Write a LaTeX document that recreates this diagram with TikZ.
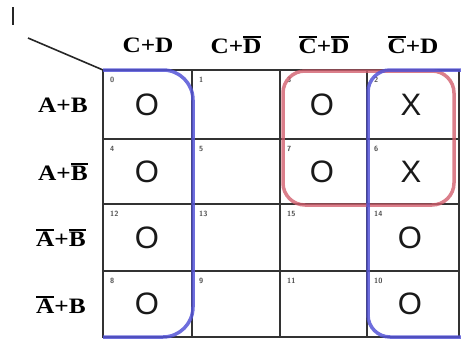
\documentclass[tikz,border=0pt]{standalone}
\usepackage{fontspec}
\newfontfamily\hdrfont[FakeStretch=1.15]{Liberation Serif}
\newfontfamily\valfont{Liberation Sans}
\newcommand\ovb[1]{\leavevmode\vbox{\hrule height 1.4pt\kern1.6pt\hbox{#1}}}
\definecolor{loopblue}{RGB}{85,85,215}
\definecolor{loopred}{RGB}{210,95,110}
\begin{document}
\begin{tikzpicture}[x=1pt,y=-1pt,
  gridline/.style={draw=black!80, line width=1.3pt},
  hdr/.style={font=\hdrfont\bfseries\fontsize{22}{25}\selectfont, inner sep=0pt},
  val/.style={font=\valfont\fontsize{31}{34}\selectfont, inner sep=0pt, text=black!90},
  idx/.style={font=\sffamily\bfseries\fontsize{7.5}{8}\selectfont, text=black!70, inner sep=0pt, anchor=north west},
  blueloop/.style={draw=loopblue, line width=3.5pt, opacity=0.85},
  redloop/.style={draw=loopred, line width=3.5pt, opacity=0.8},
  thinline/.style={draw=black!85, line width=1.6pt}]
\useasboundingbox (0,0) rectangle (461,340);
% grid
\draw[gridline] (103,70) rectangle (459,337);
\foreach \x in {192,280,367} \draw[gridline] (\x,70) -- (\x,337);
\foreach \y in {139,204,271} \draw[gridline] (103,\y) -- (459,\y);
% corner line and mark
\coordinate (corner) at (103,70);
\coordinate (dstart) at (28,38);
\draw[thinline] (dstart) -- (corner);
\coordinate (m1) at (13,7);
\coordinate (m2) at (13,25);
\draw[thinline] (m1) -- (m2);
% headers
\node[hdr] (h0) at (148,45) {C+D};
\node[hdr] (h1) at (236,45) {C+\ovb{D}};
\node[hdr] (h2) at (324,45) {\ovb{C}+\ovb{D}};
\node[hdr] (h3) at (413,45) {\ovb{C}+D};
\node[hdr] (r0) at (63,105) {A+B};
\node[hdr] (r1) at (63,172) {A+\ovb{B}};
\node[hdr] (r2) at (61,238) {\ovb{A}+\ovb{B}};
\node[hdr] (r3) at (61,305) {\ovb{A}+B};
% cell indices
\foreach \n/\x/\y in {0/103/70,1/192/70,3/280/70,2/367/70,
                      4/103/139,5/192/139,7/280/139,6/367/139,
                      12/103/204,13/192/204,15/280/204,14/367/204,
                      8/103/271,9/192/271,11/280/271,10/367/271}
  \node[idx] (i\n) at (\x+7,\y+7) {\n};
% values
\node[val] (v0) at (147,105) {O};
\node[val] (v4) at (147,172) {O};
\node[val] (v12) at (147,238) {O};
\node[val] (v8) at (147,304) {O};
\node[val] (v3) at (322,105) {O};
\node[val] (v7) at (322,172) {O};
\node[val] (v2) at (411,105) {X};
\node[val] (v6) at (411,172) {X};
\node[val] (v14) at (410,238) {O};
\node[val] (v10) at (410,304) {O};
% loops
\draw[redloop, rounded corners=22pt] (283,71) rectangle (454,205);
\draw[blueloop, rounded corners=30pt] (103,70) -- (193,70) -- (193,337) -- (103,337);
\draw[blueloop, rounded corners=22pt] (461,70) -- (368,70) -- (368,337) -- (461,337);
\end{tikzpicture}
\end{document}
